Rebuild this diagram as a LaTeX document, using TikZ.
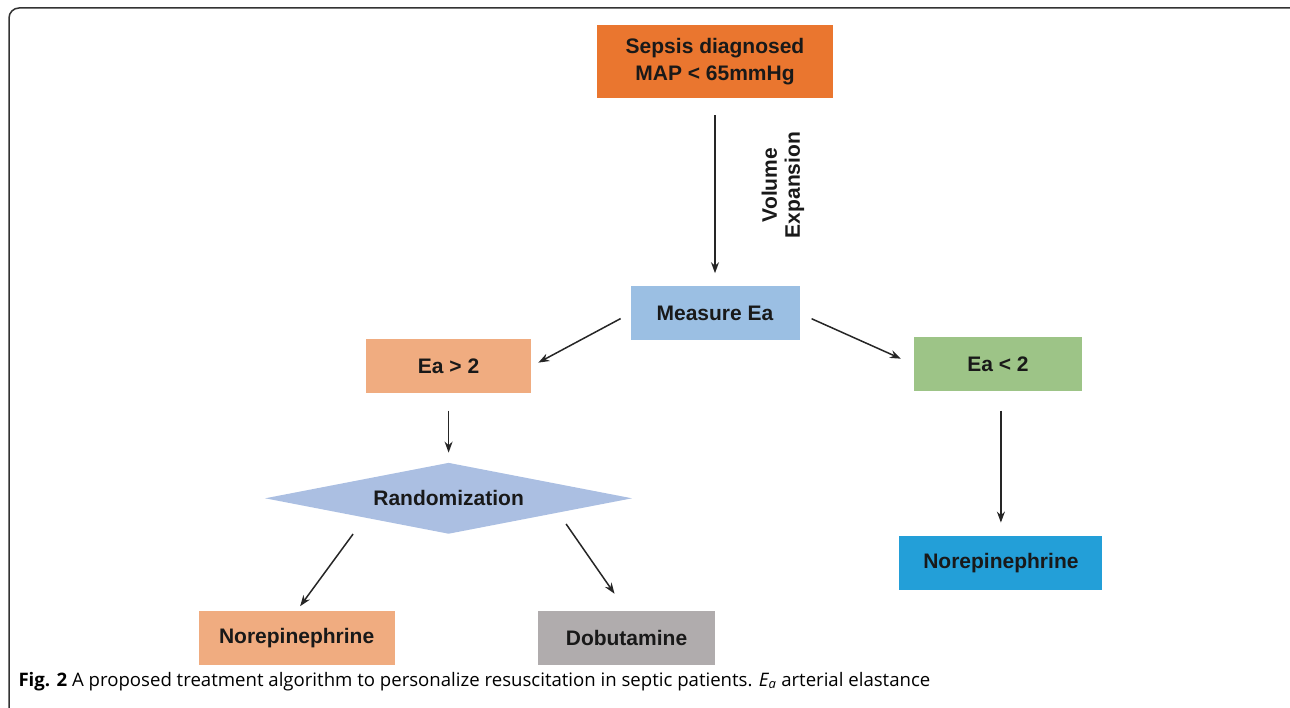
\documentclass[tikz,border=0pt]{standalone}
\usepackage{fontspec}
\setmainfont{Liberation Sans}
\newfontfamily\capfont{Open Sans}
\usepackage{xcolor}
\usetikzlibrary{shapes.geometric,arrows.meta,positioning}

\definecolor{sepsisorange}{RGB}{234,118,47}
\definecolor{measureblue}{RGB}{155,191,227}
\definecolor{salmon}{RGB}{240,172,128}
\definecolor{lowgreen}{RGB}{157,196,135}
\definecolor{randblue}{RGB}{171,191,226}
\definecolor{dobgray}{RGB}{176,172,173}
\definecolor{norblue}{RGB}{35,159,216}

\begin{document}
\begin{tikzpicture}[
			x=1pt, y=-1pt,
			every node/.style={font=\fontsize{21}{27}\selectfont\bfseries, text=black!90},
			box/.style={rectangle, inner sep=0pt, minimum height=54pt, text centered, align=center},
			choice/.style={diamond, aspect=5.17, inner sep=0pt, minimum width=367pt, minimum height=71pt, text centered},
			arrow/.style={draw, black!85, line width=1.5pt, -{Stealth[length=11pt,width=8pt]}}
			]
			\useasboundingbox (0,0) rectangle (1290,708);
			
			% frame
			\draw[line width=1.5pt, black!80, rounded corners=10pt] (9,708) -- (9,8) -- (1290,8);
			
			% nodes
			\node (sepsis) [box, fill=sepsisorange, minimum width=236pt, minimum height=73pt] at (715,61.5) {Sepsis diagnosed\\MAP < 65mmHg};
			\node (measure) [box, fill=measureblue, minimum width=169pt, below=188pt of sepsis] {Measure Ea};
			\node (eagt) [box, fill=salmon, minimum width=165pt, left=99pt of measure, yshift=-53pt] {Ea > 2};
			\node (ealt) [box, fill=lowgreen, minimum width=168pt, right=114pt of measure, yshift=-51pt] {Ea < 2};
			\node (rand) [choice, fill=randblue, below=69pt of eagt] {Randomization};
			\node (norl) [box, fill=salmon, minimum width=196pt, below=77pt of rand, xshift=-152pt] {Norepinephrine};
			\node (dob) [box, fill=dobgray, minimum width=177pt, right=143pt of norl] {Dobutamine};
			\node (norr) [box, fill=norblue, minimum width=203pt, below=144pt of ealt, xshift=3pt] {Norepinephrine};
			
			\node (volume) [rotate=90, align=center, font=\fontsize{21}{23}\selectfont\bfseries] at (783,185) {Volume\\Expansion};
			
			\coordinate (r1) at ([xshift=-95.5pt]rand.south);
			\coordinate (r2) at ([xshift=117.5pt,yshift=10pt]rand.south);
			\coordinate (l1) at ([xshift=3pt]ealt.south);
			
			% arrows
			\draw [arrow, shorten <=17pt, shorten >=13pt] (sepsis.south) -- (measure.north);
			\draw [arrow, shorten <=11pt, shorten >=8pt] (measure.west) -- (eagt.east);
			\draw [arrow, shorten <=13pt, shorten >=14pt] (measure.east) -- (ealt.west);
			\draw [arrow, shorten <=17pt, shorten >=10pt] (eagt.south) -- (rand.north);
			\draw [arrow, shorten <=19pt, shorten >=13pt] (l1) -- (norr.north);
			\draw [arrow, shorten >=6pt] (r1) -- (norl.north);
			\draw [arrow, shorten >=21pt] (r2) -- (dob.north);
			
			% caption
			\node (caption) [anchor=base west, font=\capfont\fontsize{18.6}{22}\selectfont, text=black] at (15,686) {\textbf{Fig. 2} A proposed treatment algorithm to personalize resuscitation in septic patients. {\itshape E}\textsubscript{\itshape a} arterial elastance};
			
		\end{tikzpicture}
\end{document}
